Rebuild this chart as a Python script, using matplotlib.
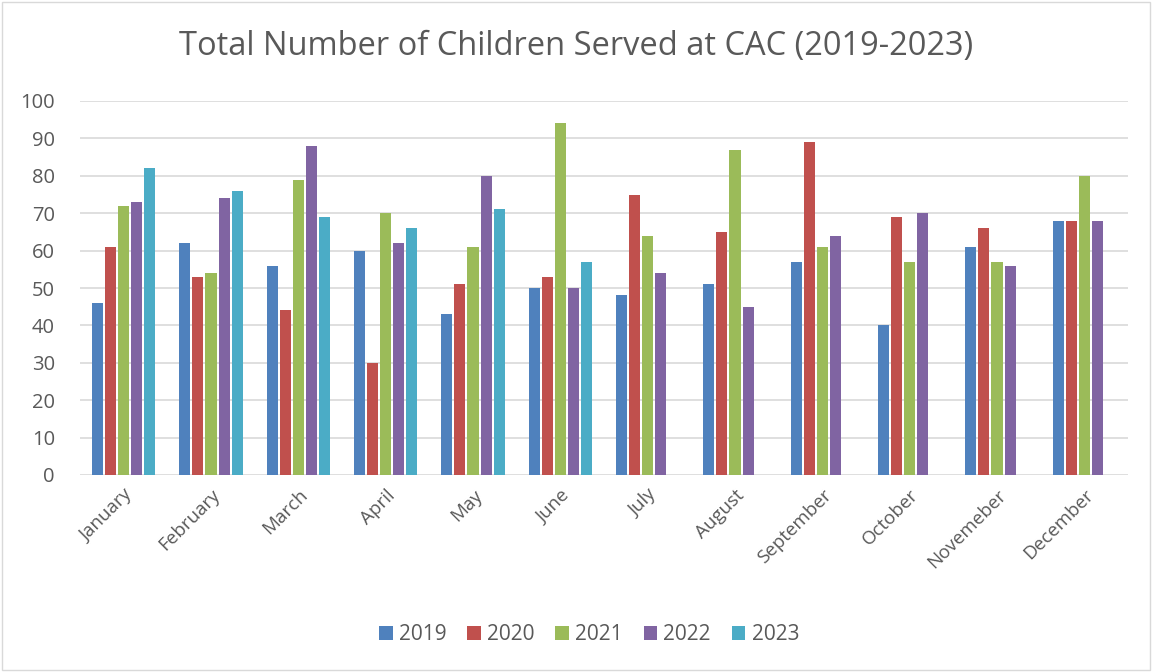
import numpy as np
import matplotlib.pyplot as plt
from matplotlib.patches import Rectangle

months = ['January', 'February', 'March', 'April', 'May', 'June', 'July',
          'August', 'September', 'October', 'Novemeber', 'December']
years = ['2019', '2020', '2021', '2022', '2023']
v2019 = [46, 62, 56, 60, 43, 50, 48, 51, 57, 40, 61, 68]
v2020 = [61, 53, 44, 30, 51, 53, 75, 65, 89, 69, 66, 68]
v2021 = [72, 54, 79, 70, 61, 94, 64, 87, 61, 57, 57, 80]
v2022 = [73, 74, 88, 62, 80, 50, 54, 45, 64, 70, 56, 68]
v2023 = [82, 76, 69, 66, 71, 57, np.nan, np.nan, np.nan, np.nan, np.nan, np.nan]
colors = ['#4f81bd', '#c0504d', '#9bbb59', '#8064a2', '#4bacc6']

plt.rcParams['font.family'] = ['Open Sans', 'DejaVu Sans']
fig = plt.figure(figsize=(11.52, 6.72), dpi=100)
ax = fig.add_axes([80 / 1152, 1 - 475 / 672, 1048 / 1152, 374 / 672])

x = np.arange(len(months))
pitch = 0.149
bw = 0.126
series = [v2019, v2020, v2021, v2022, v2023]
for i, (vals, yr) in enumerate(zip(series, years)):
    ax.bar(x + (i - 2) * pitch, vals, bw, color=colors[i], label=yr, zorder=3)

ax.set_xlim(-0.5, len(months) - 0.5)
ax.set_ylim(0, 100)
ax.set_yticks(range(0, 101, 10))
ax.grid(axis='y', color='#d9d9d9', linewidth=1.2, zorder=0)
for s in ax.spines.values():
    s.set_visible(False)
ax.tick_params(length=0, colors='#595959')
ax.tick_params(axis='y', labelsize=14.5, pad=18)
ax.set_xticks(x)
ax.set_xticklabels(months, rotation=45, ha='right', rotation_mode='anchor')
ax.tick_params(axis='x', labelsize=13.5, pad=8)

fig.text(0.5, 1 - 47 / 672, 'Total Number of Children Served at CAC (2019-2023)',
         ha='center', va='center', fontsize=23.5, color='#595959')

ax.legend(loc='center', bbox_to_anchor=((589 - 80) / 1048, (475 - 635) / 374), ncol=5,
          frameon=False, fontsize=15, labelcolor='#595959',
          handlelength=0.65, handleheight=0.65, columnspacing=1.0, handletextpad=0.3)

fig.patches.append(Rectangle((0.002, 0.003), 0.996, 0.994, transform=fig.transFigure,
                             fill=False, edgecolor='#d9d9d9', linewidth=1))

fig.savefig('out.png', dpi=100)
